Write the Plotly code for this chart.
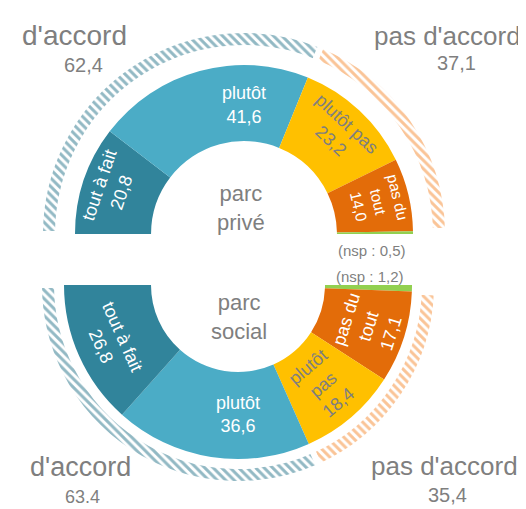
import plotly.graph_objects as go

W, H = 526, 509
FONT = "Liberation Sans, Arial, sans-serif"
GRAY = "#7f7f7f"
CLEAR = "rgba(0,0,0,0)"

# ---- data ----
categories = ["tout à fait", "plutôt", "plutôt pas", "pas du tout", "nsp"]
prive_values = [20.8, 41.6, 23.2, 14.0, 0.5]
social_values = [26.8, 36.6, 18.4, 17.1, 1.2]
prive_labels = ["tout à fait", "plutôt", "plutôt pas", "pas du<br>tout", "nsp"]
social_labels = ["tout à fait", "plutôt", "plutôt<br>pas", "pas du<br>tout", "nsp"]

groups = ["d'accord", "pas d'accord", "nsp"]
prive_groups = [62.4, 37.1, 0.5]
social_groups = [63.4, 35.4, 1.2]
social_groups_text = ["63.4", "35,4", "1,2"]

# ---- styles ----
seg_colors = ["#31849b", "#4bacc6", "#ffc000", "#e36c09", "#92d050"]
text_colors = ["white", "white", "#7f7f7f", "white", "white"]
arc_colors = ["#267389", "#f58a30"]


def fmt(v):
    return f"{v:.1f}".replace(".", ",")


def dom(cx, cy, r):
    return dict(x=[(cx - r) / W, (cx + r) / W], y=[1 - (cy + r) / H, 1 - (cy - r) / H])


def donut(values, labels, reverse, cx, cy, r, hole):
    vals = list(values)
    texts = [f"{l}<br>{fmt(v)}" for l, v in zip(labels, vals)]
    cols = list(seg_colors)
    tcols = list(text_colors)
    pos = ["inside"] * 4 + ["none"]
    if reverse:
        vals, texts, cols, tcols, pos = vals[::-1], texts[::-1], cols[::-1], tcols[::-1], pos[::-1]
    vals = vals + [sum(values)]
    texts = texts + [""]
    cols = cols + [CLEAR]
    tcols = tcols + [CLEAR]
    pos = pos + ["none"]
    return go.Pie(
        values=vals, text=texts, textinfo="text", textposition=pos,
        insidetextorientation="tangential",
        textfont=dict(family=FONT, size=18, color=tcols),
        marker=dict(colors=cols, line=dict(width=0)),
        hole=hole, sort=False, direction="clockwise",
        rotation=90 if reverse else -90,
        domain=dom(cx, cy, r), showlegend=False, hoverinfo="skip",
    )


def arcs(values, reverse, cx, cy, r, hole):
    vals = list(values)
    cols = ["white", "white", CLEAR]
    shapes = ["\\", "\\", ""]
    fg = arc_colors + [CLEAR]
    lines = ["white", "white", CLEAR]
    if reverse:
        vals, cols, shapes, fg, lines = vals[::-1], cols[::-1], shapes[::-1], fg[::-1], lines[::-1]
    vals = vals + [sum(values)]
    cols = cols + [CLEAR]
    shapes = shapes + [""]
    fg = fg + [CLEAR]
    lines = lines + [CLEAR]
    return go.Pie(
        values=vals, textinfo="none",
        marker=dict(colors=cols, line=dict(width=6, color=lines),
                    pattern=dict(shape=shapes, fgcolor=fg, fillmode="overlay",
                                 size=6, solidity=0.5)),
        hole=hole, sort=False, direction="clockwise",
        rotation=90 if reverse else -90,
        domain=dom(cx, cy, r), showlegend=False, hoverinfo="skip",
    )


fig = go.Figure()
fig.add_trace(arcs(prive_groups, False, 236, 226, 204, 186 / 204))
fig.add_trace(arcs(social_groups, True, 230, 277, 199, 181 / 199))
fig.add_trace(donut(prive_values, prive_labels, False, 236, 226, 169, 0.55))
fig.add_trace(donut(social_values, social_labels, True, 230, 277, 174, 0.50))


def ann(text, x, y, size):
    fig.add_annotation(text=text, x=x / W, y=1 - y / H, xref="paper", yref="paper",
                       showarrow=False, xanchor="center", yanchor="middle",
                       font=dict(family=FONT, size=size, color=GRAY))


# top
ann(groups[0], 66, 28, 28)
ann(fmt(prive_groups[0]), 76, 57, 20)
ann(groups[1], 439, 28, 26)
ann(fmt(prive_groups[1]), 448, 55, 20)
ann("parc<br>privé", 233, 200, 22)
ann(f"(nsp : {fmt(prive_groups[2])})", 364, 243, 15)
# bottom
ann(f"(nsp : {fmt(social_groups[2])})", 362, 268, 15)
ann("parc<br>social", 231, 309, 22)
ann(groups[0], 72, 459, 27)
ann(social_groups_text[0], 74, 489, 18)
ann(groups[1], 436, 458, 26)
ann(social_groups_text[1], 439, 487, 20)

fig.update_layout(
    width=W, height=H, margin=dict(l=0, r=0, t=0, b=0),
    paper_bgcolor="white", plot_bgcolor="white",
    font=dict(family=FONT, color=GRAY),
)

fig.write_html("out.html")
